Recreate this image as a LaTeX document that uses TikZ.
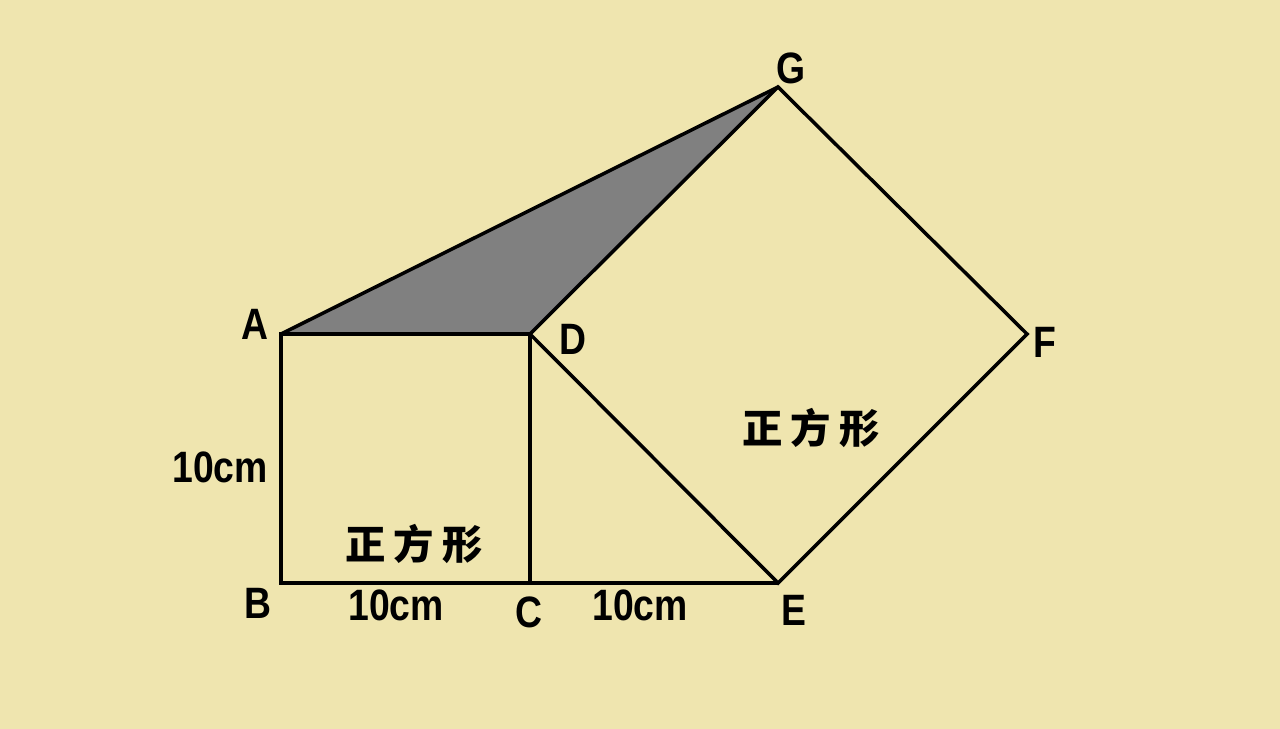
\documentclass[tikz,border=0pt]{standalone}
\usepackage{fontspec}
\setmainfont{Liberation Sans}
\newfontfamily\cjk{Noto Sans CJK SC}
\usetikzlibrary{positioning}
\definecolor{paperbeige}{RGB}{239,229,175}
\definecolor{shadegray}{RGB}{128,128,128}

\tikzset{
    edge/.style={line width=2pt, line join=miter, black},
    vlabel/.style={font=\fontsize{25}{25}\selectfont\bfseries, inner sep=0pt, xscale=0.85, transform shape},
    lenlabel/.style={font=\fontsize{25}{25}\selectfont\bfseries, inner sep=0pt, xscale=0.85, transform shape},
    sqlabel/.style={font=\fontsize{23}{23}\selectfont\cjk\bfseries, inner sep=0pt}
}

\begin{document}
\begin{tikzpicture}[x=0.02cm,y=-0.02cm]
    % Background
    \fill[paperbeige] (0,0) rectangle (1280,729);
    \useasboundingbox (0,0) rectangle (1280,729);

    % Corners
    \coordinate (A) at (281,334);
    \coordinate (B) at (281,583);
    \coordinate (C) at (530,583);
    \coordinate (D) at (530,334);
    \coordinate (E) at (778,583);
    \coordinate (F) at (1027,334);
    \coordinate (G) at (778,87);

    % Shaded triangle
    \fill[shadegray] (A) -- (D) -- (G) -- cycle;

    % Draw the two squares
    \draw[edge] (A) -- (B) -- (C) -- (D) -- cycle;
    \draw[edge] (D) -- (E) -- (F) -- (G) -- cycle;
    \draw[edge] (C) -- (E);
    \draw[edge] (A) -- (G);

    % Corner labels
    \node[vlabel] (labA) at (255,324) {A};
    \node[vlabel] (labB) at (258,603) {B};
    \node[vlabel] (labC) at (529,612) {C};
    \node[vlabel] (labD) at (573,339) {D};
    \node[vlabel] (labE) at (794,610) {E};
    \node[vlabel] (labF) at (1045,342) {F};
    \node[vlabel] (labG) at (791,68) {G};

    % Lengths
    \node[lenlabel] (lenAB) at (220,467) {10cm};
    \node[lenlabel] (lenBC) at (396,605) {10cm};
    \node[lenlabel] (lenCE) at (640,605) {10cm};

    % Square names
    \node[sqlabel] (sqL) at (414,544) {正\hspace{0.2em}方\hspace{0.2em}形};
    \node[sqlabel] (sqR) at (811,428) {正\hspace{0.2em}方\hspace{0.2em}形};
\end{tikzpicture}
\end{document}
